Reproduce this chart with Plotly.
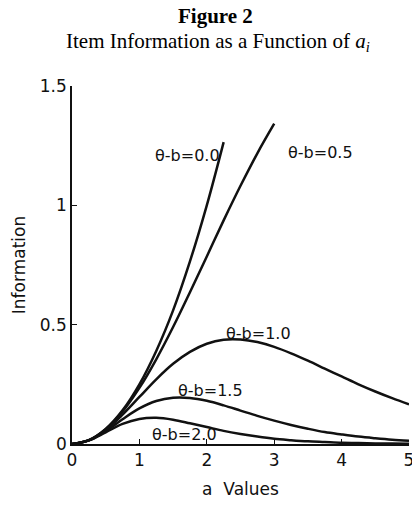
import plotly.graph_objects as go

# a values (discrimination)
a_vals = [0, 0.25, 0.5, 0.75, 1.0, 1.25, 1.5, 1.75, 2.0, 2.25, 2.5, 2.75, 3.0,
          3.25, 3.5, 3.75, 4.0, 4.25, 4.5, 4.75, 5.0]

# information curves (theta - b levels)
info_00 = [0, 0.016, 0.063, 0.141, 0.25, 0.39, 0.56, 0.765, 1.0, 1.265]
info_05 = [0, 0.016, 0.062, 0.136, 0.235, 0.355, 0.49, 0.636, 0.786, 0.937, 1.082, 1.218, 1.342]
info_10 = [0, 0.015, 0.059, 0.123, 0.197, 0.271, 0.336, 0.386, 0.420, 0.437, 0.438, 0.427,
           0.407, 0.380, 0.349, 0.316, 0.283, 0.250, 0.220, 0.192, 0.166]
info_15 = [0, 0.015, 0.054, 0.104, 0.149, 0.180, 0.194, 0.193, 0.181, 0.162, 0.140, 0.118,
           0.098, 0.080, 0.064, 0.050, 0.040, 0.031, 0.024, 0.018, 0.014]
info_20 = [0, 0.015, 0.049, 0.084, 0.105, 0.110, 0.102, 0.087, 0.071, 0.055, 0.042, 0.031,
           0.022, 0.016, 0.011, 0.008, 0.005, 0.004, 0.0025, 0.0017, 0.0011]

curve_labels = ["θ-b=0.0", "θ-b=0.5", "θ-b=1.0", "θ-b=1.5", "θ-b=2.0"]
label_x = [1.72, 3.68, 2.77, 2.05, 1.67]
label_y = [1.21, 1.22, 0.463, 0.226, 0.038]

x_ticks = [0, 1, 2, 3, 4, 5]
y_ticks = [0, 0.5, 1, 1.5]
y_tick_text = ["0", "0.5", "1", "1.5"]

FONT = "DejaVu Sans"
INK = "#111111"

fig = go.Figure()
for ys in [info_00, info_05, info_10, info_15, info_20]:
    fig.add_trace(go.Scatter(
        x=a_vals[:len(ys)], y=ys, mode="lines", line_shape="spline",
        line=dict(color=INK, width=2.5), showlegend=False, hoverinfo="skip",
        cliponaxis=False))

for txt, lx, ly in zip(curve_labels, label_x, label_y):
    fig.add_annotation(x=lx, y=ly, text=txt, showarrow=False,
                       font=dict(family=FONT, size=16, color=INK),
                       xanchor="center", yanchor="middle")

fig.add_annotation(xref="paper", yref="paper", x=0.427, y=1.196,
                   text="<b>Figure 2</b>", showarrow=False,
                   font=dict(family="Liberation Serif", size=21, color="#000"),
                   xanchor="center", yanchor="middle")
fig.add_annotation(xref="paper", yref="paper", x=0.434, y=1.124,
                   text="Item Information as a Function of <i>a<sub>i</sub></i>",
                   showarrow=False,
                   font=dict(family="Liberation Serif", size=21, color="#000"),
                   xanchor="center", yanchor="middle")

fig.update_layout(
    width=412, height=505,
    margin=dict(l=72, r=3, t=86, b=61),
    paper_bgcolor="white", plot_bgcolor="white",
    font=dict(family=FONT, color=INK),
    xaxis=dict(range=[0, 5], tickvals=x_ticks, ticks="inside", ticklen=5,
               tickcolor=INK, showline=True, linecolor=INK, linewidth=1.5,
               ticklabeloverflow="allow", automargin=False,
               showgrid=False, zeroline=False, tickfont=dict(size=17, family=FONT),
               title=dict(text="a  Values", font=dict(size=17, family=FONT), standoff=14)),
    yaxis=dict(range=[0, 1.5], tickvals=y_ticks, ticktext=y_tick_text, ticks="inside",
               ticklen=5, tickcolor=INK, showline=True, linecolor=INK, linewidth=1.5,
               automargin=False,
               showgrid=False, zeroline=False, tickfont=dict(size=17, family=FONT),
               title=dict(text="Information", font=dict(size=17, family=FONT), standoff=10)),
)

fig.write_html("out.html")
